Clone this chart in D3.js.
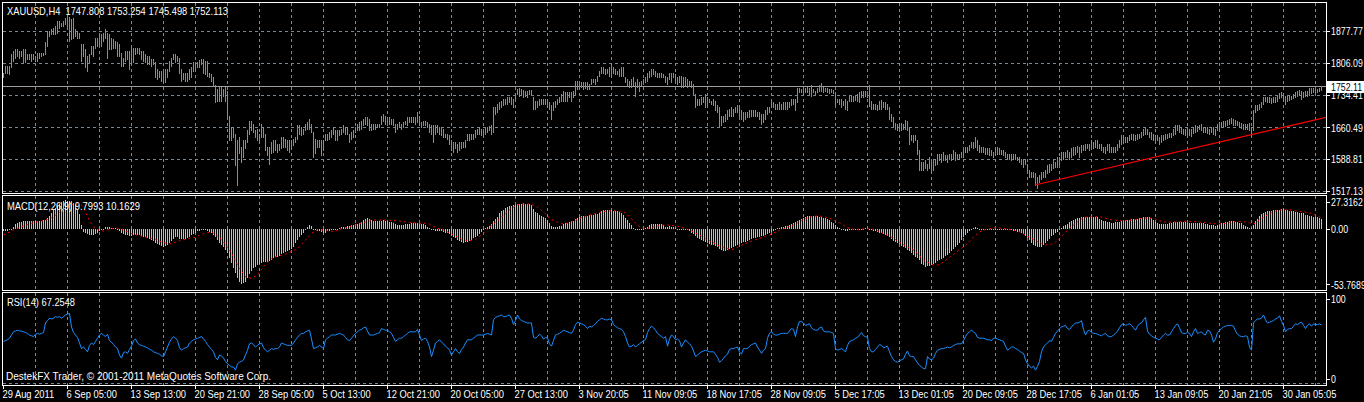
<!DOCTYPE html>
<html><head><meta charset="utf-8">
<script src="https://cdn.jsdelivr.net/npm/d3@7"></script>
<style>html,body{margin:0;padding:0;background:#000;overflow:hidden}svg{display:block}</style>
</head><body>
<svg id="chart" width="1364" height="402"></svg>
<script>
// ---------------- DATA ----------------
const symbolTitle = "XAUUSD,H4  1747.808 1753.254 1745.498 1752.113";
const macdTitle = "MACD(12,26,9) 9.7993 10.1629";
const rsiTitle = "RSI(14) 67.2548";
const footer = "DestekFX Trader, \u00A9 2001-2011 MetaQuotes Software Corp.";
const lastPrice = 1752.113;
const lastPriceLabel = "1752.11";
const priceTicks = [1877.77, 1806.09, 1734.41, 1660.49, 1588.81, 1517.13];
const priceTickLabels = ["1877.77", "1806.09", "1734.41", "1660.49", "1588.81", "1517.13"];
const macdTicks = [27.3162, 0, -53.7689];
const macdTickLabels = ["27.3162", "0.00", "-53.7689"];
const rsiTicks = [100, 0];
const rsiTickLabels = ["100", "0"];
const timeLabels = ["29 Aug 2011","6 Sep 05:00","13 Sep 13:00","20 Sep 21:00","28 Sep 05:00","5 Oct 13:00","12 Oct 21:00","20 Oct 05:00","27 Oct 13:00","3 Nov 20:05","11 Nov 09:05","18 Nov 17:05","28 Nov 09:05","5 Dec 17:05","13 Dec 01:05","20 Dec 09:05","28 Dec 17:05","6 Jan 01:05","13 Jan 09:05","20 Jan 21:05","30 Jan 05:05"];
const timeLabelBars = [0,32,64,96,128,160,192,224,256,288,320,352,384,416,448,480,512,544,576,608,640];
const trendBars = [516, 659];
const trendPrices = [1530.7, 1680.5];

const high = [
1784,1799,1799,1799,1825,1833,1837,1837,1833,1833,
1837,1837,1825,1825,1825,1825,1822,1829,1829,1829,
1829,1852,1878,1878,1882,1885,1889,1900,1900,1896,
1900,1908,1908,1909,1904,1908,1882,1878,1874,1848,
1848,1837,1822,1825,1844,1844,1863,1863,1870,1870,
1874,1882,1874,1870,1863,1859,1855,1852,1848,1829,
1818,1833,1833,1833,1840,1840,1840,1840,1840,1833,
1833,1825,1822,1822,1814,1814,1807,1792,1788,1788,
1788,1792,1792,1811,1818,1825,1825,1822,1818,1792,
1784,1784,1784,1792,1796,1807,1807,1807,1812,1814,
1814,1811,1811,1784,1781,1773,1755,1747,1751,1751,
1747,1751,1743,1687,1661,1661,1646,1631,1639,1616,
1631,1631,1654,1676,1676,1669,1654,1658,1646,1669,
1661,1646,1616,1616,1628,1631,1631,1624,1624,1639,
1639,1635,1631,1631,1631,1635,1639,1665,1665,1661,
1658,1669,1672,1680,1669,1650,1635,1631,1631,1631,
1631,1646,1646,1650,1654,1661,
1654,1654,1654,1658,1665,1661,1661,1646,1650,1654,
1661,1669,1672,1676,1680,1684,1684,1680,1669,1669,
1669,1669,1669,1687,1691,1687,1684,1684,1680,1680,
1669,1669,1672,1669,1672,1676,1684,1684,1684,1684,
1684,1695,1687,1672,1676,1676,1672,1669,1665,1665,
1665,1665,1661,1661,1658,1646,1646,1643,1631,1628,
1628,1624,1628,1628,1628,1631,1646,1646,1646,1646,
1654,1658,1661,1658,1658,1661,1661,1663,1665,1706,
1706,1713,1717,1721,1725,1725,1728,1728,1728,1725,
1736,1747,1749,1747,1745,1743,1743,1745,1745,1728,
1721,1721,1725,1725,1725,1725,1725,1717,1710,1717,
1721,1725,1728,1736,1743,1740,1740,1740,1740,1743,
1766,1766,1766,1762,1762,1762,1762,1758,1770,1770,
1770,1777,1788,1796,1796,1792,1792,1796,1803,1796,
1792,1788,1792,1796,1796,1773,1770,1766,1770,1773,
1762,1770,1762,1766,1770,1773,1784,1788,1792,1792,
1788,1784,1784,1784,1781,
1777,1773,1784,1784,1784,1781,1773,1777,1777,1773,
1773,1770,1766,1766,1758,1736,1725,1725,1728,1728,
1736,1728,1725,1721,1725,1721,1710,1706,1687,1687,
1691,1699,1702,1706,1702,1706,1710,1710,1699,1695,
1695,1695,1699,1700,1699,1699,1695,1695,1691,1691,
1699,1706,1706,1721,1717,1713,1713,1717,1713,1717,
1717,1717,1717,1725,1725,1725,1749,1749,1747,1749,
1749,1752,1749,1755,1747,1743,1749,1755,1760,1752,
1749,1749,1747,1747,1745,1740,1725,1725,1725,1721,
1725,1721,1732,1732,1732,1732,1736,1740,1742,1742,
1742,1742,1755,1721,1713,1713,1712,1721,1722,1717,
1717,1713,1706,1691,1684,1670,1669,1670,1670,1669,
1678,1676,1661,1643,1643,1643,1631,1609,1583,1583,
1587,1579,1594,1583,1587,1590,1601,1601,1601,1605,
1598,1598,1601,1601,1609,1605,1601,1601,1605,1609,
1616,1616,1620,1628,1628,1639,1631,1620,1616,1616,
1613,1613,1613,1609,1605,
1616,1616,1613,1609,1609,1605,1601,1601,1601,1601,
1600,1594,1594,1590,1590,1587,1579,1564,1560,1560,
1557,1549,1553,1560,1560,1564,1575,1579,1579,1587,
1583,1594,1594,1605,1605,1605,1609,1605,1613,1616,
1616,1618,1616,1620,1620,1624,1624,1624,1631,1628,
1631,1631,1624,1624,1616,1616,1624,1624,1616,1616,
1616,1624,1631,1643,1643,1639,1639,1643,1646,1646,
1643,1645,1646,1650,1658,1661,1658,1650,1650,1646,
1643,1643,1639,1643,1643,1646,1646,1648,1648,1658,
1665,1667,1665,1661,1658,1658,1661,1658,1658,1661,
1665,1663,1667,1669,1661,1661,1661,1658,1661,1661,
1658,1669,1672,1672,1676,1676,1678,1680,1682,1680,
1678,1676,1672,1670,1669,1669,1669,1670,1661,1699,
1712,1712,1713,1717,1728,1730,1728,1728,1727,1728,
1728,1732,1737,1740,1737,1732,1732,1732,1732,1736,
1740,1743,1745,1743,1740,1742,1742,1749,1749,1749,
1749,1747,1749,1753.254];

const low = [
1773,1784,1784,1781,1796,1811,1818,1822,1818,1822,
1807,1807,1814,1814,1811,1814,1811,1811,1818,1822,
1824,1825,1844,1867,1870,1870,1870,1874,1885,1889,
1889,1893,1889,1855,1859,1863,1867,1863,1863,1811,
1822,1796,1788,1807,1825,1822,1840,1844,1848,1844,
1855,1863,1818,1837,1837,1840,1840,1822,1822,1799,
1799,1811,1814,1792,1803,1807,1825,1829,1825,1814,
1811,1807,1803,1803,1799,1803,1773,1770,1773,1766,
1762,1762,1773,1788,1799,1814,1807,1811,1784,1766,
1770,1766,1766,1770,1773,1788,1792,1796,1796,1803,
1784,1781,1777,1773,1766,1755,1717,1721,1721,1721,
1732,1721,1684,1631,1631,1639,1575,1531,1602,1583,
1594,1613,1628,1646,1654,1650,1639,1631,1628,1639,
1639,1609,1598,1579,1602,1605,1609,1605,1609,1613,
1616,1616,1609,1605,1613,1620,1628,1635,1646,1643,
1646,1654,1658,1658,1650,1594,1602,1616,1616,1598,
1609,1631,1631,1635,1639,1646,
1631,1631,1643,1646,1650,1646,1646,1628,1635,1639,
1650,1654,1654,1658,1665,1669,1665,1654,1654,1658,
1658,1661,1661,1669,1676,1669,1672,1669,1669,1665,
1650,1658,1661,1658,1661,1669,1665,1672,1672,1672,
1669,1672,1665,1661,1665,1665,1661,1650,1646,1628,
1646,1650,1646,1643,1639,1639,1635,1624,1609,1605,
1613,1605,1609,1613,1616,1616,1631,1631,1635,1635,
1639,1646,1646,1643,1646,1646,1650,1654,1646,1650,
1691,1695,1702,1706,1710,1713,1713,1717,1713,1706,
1721,1736,1732,1736,1728,1732,1728,1736,1736,1702,
1702,1706,1710,1713,1713,1713,1706,1702,1680,1699,
1706,1713,1717,1721,1721,1721,1721,1728,1721,1728,
1736,1747,1747,1751,1747,1749,1747,1747,1758,1762,
1758,1766,1777,1784,1784,1781,1784,1777,1777,1784,
1781,1781,1777,1777,1777,1762,1755,1751,1751,1755,
1732,1751,1743,1755,1758,1762,1766,1773,1777,1781,
1777,1773,1773,1773,1773,
1762,1758,1770,1762,1773,1766,1758,1762,1751,1751,
1755,1751,1755,1751,1736,1706,1710,1710,1713,1717,
1706,1713,1717,1713,1710,1699,1695,1663,1665,1672,
1676,1680,1687,1687,1687,1695,1695,1687,1680,1676,
1680,1684,1684,1687,1687,1687,1687,1680,1669,1672,
1680,1691,1695,1706,1706,1702,1702,1702,1702,1702,
1702,1702,1706,1710,1713,1699,1717,1740,1740,1740,
1740,1740,1736,1732,1740,1736,1740,1743,1743,1740,
1742,1740,1737,1740,1737,1713,1717,1713,1706,1710,
1702,1699,1721,1721,1721,1722,1721,1717,1728,1728,
1732,1728,1708,1702,1702,1702,1700,1702,1702,1706,
1702,1702,1680,1676,1661,1658,1654,1652,1655,1658,
1658,1654,1622,1631,1628,1631,1601,1564,1564,1564,
1568,1564,1568,1560,1564,1575,1579,1587,1583,1587,
1587,1583,1590,1587,1590,1588,1590,1590,1594,1594,
1605,1605,1609,1616,1613,1616,1609,1605,1605,1605,
1601,1601,1598,1598,1594,
1598,1601,1601,1601,1598,1594,1590,1590,1587,1590,
1590,1587,1583,1579,1572,1579,1557,1549,1549,1549,
1531,1523,1538,1545,1549,1549,1557,1560,1564,1568,
1572,1572,1579,1587,1590,1594,1594,1590,1594,1598,
1601,1605,1594,1605,1609,1609,1613,1609,1616,1613,
1616,1613,1613,1609,1605,1603,1609,1605,1605,1605,
1605,1609,1616,1624,1628,1628,1628,1631,1635,1631,
1631,1635,1637,1639,1643,1646,1646,1639,1635,1633,
1631,1631,1622,1628,1631,1635,1637,1639,1639,1643,
1646,1655,1650,1648,1646,1643,1646,1643,1640,1648,
1650,1652,1658,1654,1650,1650,1648,1646,1650,1646,
1643,1654,1658,1661,1663,1663,1667,1669,1670,1667,
1667,1665,1661,1660,1658,1658,1658,1655,1646,1654,
1695,1700,1702,1706,1713,1721,1717,1717,1715,1717,
1717,1721,1727,1728,1725,1713,1721,1723,1725,1727,
1728,1732,1734,1725,1730,1732,1732,1734,1739,1740,
1740,1740,1742,1745.498];

const macdMain = [
-2,-2,-2,-1,0,2,4.5,5.5,6,6.5,
7,7,7,7,7,7,7,7.5,7.5,7.5,
8,8.4,10,12,15.5,18,19.6,22,23.8,25.4,
26.7,27.3162,27.1,27,26.4,25,22.9,18,14,4,
-2.9,-4.5,-5.5,-6.1,-6.1,-6.4,-5.5,-3.9,-2.6,-1.3,
-0.3,1.3,1.3,1.3,0.6,0.6,0.3,-0.6,-1.9,-3.9,
-5.2,-5.8,-6.4,-7.1,-7.1,-6.4,-6.1,-6.1,-6.4,-7.1,
-7.7,-8.4,-9,-9.7,-10.9,-12.2,-13.5,-14.8,-16.1,-17.1,
-17.4,-16.7,-15.5,-13.5,-11.6,-9.7,-8.4,-8.4,-9.7,-10.3,
-10.3,-9.7,-9,-7.7,-6.4,-5.2,-3.9,-2.6,-1.9,-1.3,
-1.3,-1.6,-2.3,-3.2,-4.5,-6.1,-8.4,-10.9,-13.5,-15.8,
-18,-20.6,-23.8,-28.7,-33.5,-38.3,-43.1,-48,-51.2,-53.7689,
-52.8,-51.2,-48,-43.8,-40.6,-38.3,-36.7,-35.4,-34.5,-32.8,
-31.9,-32.2,-32.2,-31.6,-30.3,-28.7,-27.7,-27,-26.1,-24.5,
-23.2,-22.2,-21.3,-20.6,-19.3,-17.4,-14.2,-10.9,-8.4,-6.1,
-3.9,-1.3,1.3,3.5,2.6,0,-1.3,-1.9,-2.6,-3.5,
-4.5,-3.9,-2.6,-1.9,-1.3,-0.6,
0,-0.5,0.5,1.5,2,2,2.5,3,3.5,4,
4.2,4.5,5.5,6.5,8,9.5,10,9,8.4,7.7,
7.4,7,7,7.5,8,7.7,7,6.5,6,5.2,
4.5,4,3.9,3.9,3.9,4.2,4.5,4.8,5,5.2,
5.2,5.5,5.2,4.5,4.2,3.5,2,0.5,-1.3,-1.6,
-1.9,-2,-2.2,-2.6,-3.2,-3.9,-4.5,-5.5,-6.8,-8,
-9.3,-10.6,-12,-13.2,-13.5,-13,-12.5,-11.6,-10.6,-9.3,
-8,-6.8,-5.2,-3.5,-1.3,0.6,1.3,2.6,4.5,7,
9.5,11.6,15,16.8,18.4,19.6,20.6,21.5,22,22.6,
23.2,23.8,24,24.3,24.5,24.3,24.1,23.5,22.9,18.7,
16.5,15,13.2,12,11.3,10.3,8.4,5,2.6,2,
1.9,1.9,2.2,3,4.2,5,5.8,6.5,7,7.6,
9,10.3,11.3,11.9,12.2,12.2,12.2,12.8,13.2,13.2,
13.7,14.2,15.5,16.8,17.8,18,18,18,18,17.4,
17.4,17.2,16,15,13.5,10.5,8,5.5,3.5,1,
0,0,-0.5,-0.6,0,1,2,3.5,4.5,4.5,
4.5,4.5,4.5,4.2,3.9,
2,2,2.2,2,1.5,0.5,0,-0.3,-0.5,-0.6,
-1,-1.3,-1.9,-4,-5.5,-7.4,-9.3,-10.3,-11.3,-12.2,
-13.3,-14.2,-15,-15.6,-16.1,-16.7,-18,-19.8,-21,-21.3,
-21.3,-20.6,-19.8,-18.4,-17.7,-17,-15.5,-14.5,-13.8,-13.2,
-12.6,-11.8,-11,-9.8,-9.3,-8.7,-8,-7.7,-7.4,-6.8,
-6.1,-5.2,-4.5,-3,-1.9,-0.3,0.5,0.8,1.6,2,
2.6,3,3.5,4.2,5.2,6.8,7.7,8.4,9.4,10.3,
11.3,11.9,12.2,12.2,12.2,12.2,11.9,11.6,11.3,10.6,
10,9,8,6.5,5,3.2,1.5,0.3,-0.6,-1.3,
-1.9,-1.9,-1.6,-1.3,-1.3,-1.3,-0.8,-0.6,-0.3,0,
0.6,0.3,-0.3,-1.3,-2,-2.6,-3.3,-3.9,-4.5,-5,
-6.1,-7,-8.4,-10,-11.5,-12.6,-13.5,-15,-16.3,-18,
-19,-20.3,-21.5,-23.2,-25,-27,-28.7,-30.5,-34,-35.5,
-36.7,-36.5,-36.1,-35.5,-34.2,-32.8,-31.5,-30,-29,-28,
-26.5,-25,-23.5,-21.8,-20,-18,-15.5,-13.5,-11,-8.5,
-6.1,-4,-2.6,-1,0.6,1.3,0.6,0,0,0,
0,-0.3,-0.3,0,0,
0,0,-0.3,-0.3,-0.6,-0.6,-1,-1.3,-1.6,-1.9,
-2.3,-2.9,-3.2,-4,-5.5,-7.2,-9.5,-11,-13.5,-15.5,
-16.7,-17.7,-18,-17.4,-16.1,-14,-12.3,-10.3,-7,-6.4,
-4.5,-3.5,-1.3,0.5,2.6,3.9,4.5,6,7,8.2,
9.4,10,10.6,11,11.6,11.6,11.6,11.6,11.6,11.6,
11.3,11,9.7,8.7,7.7,7,6.4,6,5.8,5.8,
6,6.4,6.8,7.1,7.5,8,8.4,8.8,9.2,9.7,
9.7,9.8,10,10.5,11,11.4,11.6,11,10,8.4,
6.8,5.8,4.8,4.5,4.2,4.2,4.5,5,5.5,6.2,
6.8,6.8,6.8,6.5,6.4,6,5.8,5.8,5.8,5.8,
5.8,5.8,5.5,5.2,5.2,4.8,4.5,4,3.7,3.2,
2.6,3.2,4.5,5.2,5.8,6.4,6.8,7.1,7.1,7.1,
6.8,6.4,5.8,5,3.9,3,1.9,1,0.6,3.2,
7,9.5,12,14,15.5,16.5,16.8,17.2,17.4,18,
18,18,18.4,18.7,18.7,18.2,17.7,17.4,17,16.8,
16.4,16.1,15.5,15,14.8,13.5,13,12.2,11.8,11.6,
11.3,11,10.5,9.7993];

const macdSignal = [
-6.1,-5.2,-4.2,-3.2,-2.2,-1.3,-0.5,0.3,1.1,1.9,
2.6,3.3,4,4.6,5.2,5.8,6.2,6.6,7,7.4,
7.7,8.3,9,9.9,10.7,11.6,13,14.4,15.8,17.3,
18.7,19.8,20.8,21.8,22.8,23.8,24,24,23.8,22.5,
20.6,16,11.6,8,4.5,2.2,0.3,-0.8,-1.9,-2.2,
-2.3,-1.8,-1.2,-0.6,-0.2,0.2,0.6,0.3,-0.2,-0.7,
-1.3,-2.1,-2.9,-3.7,-4.5,-5.2,-5.7,-6.2,-6.7,-7.2,
-7.7,-8.1,-8.5,-8.9,-9.3,-9.7,-10.5,-11.3,-12.1,-12.8,
-13.5,-13.9,-14.3,-14.6,-14.8,-14,-13.2,-12.4,-11.6,-11.1,
-10.6,-10.2,-9.7,-9.4,-9.1,-8.7,-8.4,-7.4,-6.5,-5.5,
-4.5,-4.2,-3.9,-3.7,-3.5,-4.3,-5.2,-7,-8.9,-10.7,
-12.6,-15.4,-18.2,-21,-23.8,-27.5,-31.1,-34.7,-38.3,-41,
-43.7,-46.4,-47,-47.5,-48,-47,-45.9,-44.8,-42.1,-39.4,
-36.7,-34.6,-32.4,-30.3,-29.2,-28.1,-27,-26.6,-26.2,-25.8,
-25.4,-24.6,-23.8,-22.9,-22.1,-21.3,-20,-18.7,-17.4,-15.2,
-13.1,-10.9,-8.8,-6.6,-4.5,-3.4,-2.4,-1.3,-1.3,-1.3,
-1.3,-1.3,-1.6,-2,-2.3,-3,
-2.5,-1.5,-0.6,0,0.5,1,1.5,1.9,2.5,3,
3.6,4.2,4.7,5.3,5.8,6.3,6.8,7.4,7.9,8.4,
8.4,8.4,8.4,8.4,8.4,8.3,8.2,8.1,8,7.9,
7.8,7.7,7.4,7.1,6.8,6.5,6.2,5.9,5.7,5.6,
5.5,5.4,5.2,5.2,5.2,5.2,5,4.5,3.5,2.4,
1.3,0.4,-0.2,-0.8,-1.3,-2.2,-3.2,-4.2,-5.1,-6.1,
-7.1,-8,-9,-10,-10.9,-11.2,-11.4,-11.6,-11.2,-10.8,
-10.4,-9,-7.5,-6,-4.5,-2.5,-0.5,1.5,3,4.5,
6,7.5,9.3,11.2,13.2,14.8,16.5,18.2,19.6,20.8,
22.2,23,23.3,23.6,23.8,23.8,23.8,23.8,23.3,22.8,
22.2,20.8,19.2,17.8,16.4,14.3,12.2,10.2,9,8,
7,6.2,5.5,4.8,4.5,4.9,5.3,5.8,6.6,7.4,
8.2,9,9.8,10.6,11.2,11.9,12.5,13.1,13.6,14.1,
14.6,15.1,15.6,16,16.4,16.7,17,17.3,17.4,17.4,
17.4,17.2,16.9,16.6,16.4,15,13.3,11.6,9.6,7.5,
5.3,3.5,2,1,0.3,0.3,0.4,0.5,1,1.6,
2.2,2.6,3,3.3,3.5,
3.5,3.5,3.5,3.2,2.9,2.6,2.3,1.9,1.3,0.6,
0,-0.6,-1.3,-2.3,-3.2,-4.2,-5.1,-6.1,-7.2,-8.3,
-9.4,-10.5,-11.6,-12.6,-13.6,-14.7,-15.7,-16.7,-17.4,-18.1,
-18.8,-19.3,-19.6,-19.9,-20,-19,-18,-16.9,-16.1,-15.2,
-14.4,-13.6,-12.8,-12.1,-11.4,-10.7,-10,-9.4,-8.7,-8.1,
-7.4,-6.8,-6.2,-5.2,-4.3,-3.3,-2.4,-1.6,-0.8,-0.2,
0.4,1.3,2.2,2.8,3.4,4.4,5.5,6.7,7.8,8.8,
9.8,10.5,11.1,11.7,12.1,12.2,12.2,12.2,11.9,11.6,
11.3,10.6,9.9,9.2,8.4,7.6,6.8,5.9,4.6,3.3,
2.2,1.2,0.4,-0.3,-0.6,-0.6,-0.6,-0.6,-0.4,-0.2,
0,-0.1,-0.3,-0.5,-0.7,-1.3,-2,-2.9,-3.8,-4.8,
-5.8,-6.4,-7.3,-8.3,-9.3,-10.5,-11.8,-13.2,-14.3,-15.4,
-16.6,-17.6,-18.6,-19.5,-20.6,-22.4,-24.2,-26.3,-28,-29.6,
-31.3,-32.3,-33.3,-34.3,-35.1,-35.1,-35.1,-35.1,-33.7,-32.2,
-30.7,-29.1,-27.6,-26.1,-25,-23.4,-21.7,-20.2,-18.9,-17.6,
-16.3,-14.4,-12.2,-10.1,-8.2,-6.6,-4.9,-3.2,-2.2,-1.5,
-0.9,-0.5,-0.1,0.3,0.6,
0.9,0.8,0.6,0.4,0.2,0,-0.3,-0.6,-1,-1.5,
-1.9,-2.4,-2.9,-4,-5.1,-6.2,-7.3,-8.4,-9.4,-10.4,
-11.4,-12.5,-13.5,-14.3,-15,-15.8,-15.5,-15.2,-14.9,-14.8,
-13,-11.1,-9.3,-7.4,-5.4,-3.5,-1.8,0,1.9,3.5,
5.1,6.7,8.4,9.3,10.1,11,11.2,11.4,11.6,11.6,
11.6,11.6,11.6,11,10.5,10,9.5,9,8.6,8.4,
8.2,7.9,7.7,7.7,7.7,7.7,7.9,8.1,8.3,8.4,
8.8,9.2,9.7,9.9,10.1,10.3,10.2,10.1,10,10,
9.2,8.5,7.7,7.3,6.8,6.4,6.4,6.4,6.4,6.4,
6.5,6.7,6.8,6.9,7,7.1,7.1,7,6.9,6.8,
6.7,6.5,6.4,6.2,6,5.8,5.6,5.4,5.2,5,
4.8,4.6,4.5,4.7,4.9,5.2,5.6,6,6.4,6.6,
6.8,6.8,6.8,6.6,6.5,6.4,5.9,5.5,5,4.5,
5.5,6.8,8.4,9.7,10.9,12.2,13.3,14.4,15.5,16.2,
16.8,17.4,18,18.2,18.4,18.7,18.4,18.2,18,17.6,
17.2,16.9,16.7,16.5,16.3,16.1,15.6,15.2,14.8,14,
13.2,12.4,11.5,10.1629];

const rsi = [
47,48,49,51,55,59,60,61,60,60,
59,58,57,55,54,53,56,57,56,57,
58,70,73,76,75,76,78,77,78,76,
78,80,81,82,65,58,55,52,45,38,
40,37,34,42,45,43,47,51,55,57,
55,53,56,48,46,43,40,38,30,26,
33,34,32,37,41,48,50,45,43,42,
41,40,39,37,36,34,33,32,31,29,
28,34,40,46,50,53,51,48,39,36,
38,39,40,45,47,49,50,51,52,53,
50,47,43,40,37,34,27,24,30,29,
26,22,19,17,15,15,11,19,21,22,
24,30,36,44,45,43,40,42,44,45,
39,36,34,36,38,37,38,38,40,45,
44,43,42,42,42,45,49,52,55,57,
57,59,60,61,50,38,39,40,42,40,
38,49,51,53,55,55,
55,56,57,56,55,52,49,48,51,54,
57,59,61,62,64,65,60,55,55,55,
56,57,58,63,62,61,61,59,57,52,
47,49,51,51,53,55,57,59,59,59,
59,62,55,48,50,51,47,40,28,36,
45,47,49,46,44,41,39,36,30,34,
38,34,32,37,40,45,49,49,49,51,
53,55,55,55,55,56,57,56,55,74,
77,78,79,80,78,78,79,80,76,68,
73,80,75,73,72,71,70,70,70,52,
51,53,56,54,50,52,51,44,41,48,
55,56,57,59,61,60,59,58,57,61,
68,71,70,69,68,66,63,66,65,67,
69,72,74,76,75,74,74,75,74,68,
66,64,63,62,59,53,45,40,41,43,
40,42,44,46,48,49,58,63,66,64,
61,57,55,53,51,
53,41,50,55,53,49,50,48,40,45,
49,46,44,41,35,28,30,32,34,35,
36,35,34,34,34,31,27,21,23,26,
29,31,37,38,38,39,40,34,31,38,
38,38,41,43,44,45,40,36,32,36,
38,51,57,59,56,55,55,56,57,57,
57,57,60,63,62,53,65,72,72,70,
67,68,69,64,62,61,61,64,65,60,
59,59,59,58,57,38,36,37,38,36,
34,42,47,48,49,51,52,55,58,54,
53,52,38,34,34,37,40,43,42,39,
40,41,34,28,24,22,21,23,24,25,
31,35,29,28,28,24,20,17,15,13,
13,28,25,24,26,32,36,37,38,38,
39,40,39,40,42,43,44,44,44,48,
53,57,59,61,59,57,52,51,51,51,
50,49,49,48,51,
51,50,49,48,47,41,36,38,40,40,
38,37,35,33,32,24,19,16,14,16,
11,16,22,34,40,43,45,48,47,52,
57,60,63,65,66,67,63,62,65,68,
70,70,71,73,62,55,60,61,58,57,
57,56,55,54,56,57,54,53,53,55,
57,60,64,68,69,67,68,69,67,64,
61,66,69,70,74,77,60,56,54,52,
51,50,49,52,55,57,55,55,59,63,
67,69,64,58,57,57,58,57,53,59,
63,57,58,59,56,55,61,60,55,46,
50,58,61,63,65,66,67,67,67,66,
60,56,54,53,53,54,53,40,36,70,
73,75,75,76,80,74,70,71,72,73,
75,76,79,72,67,59,62,63,63,66,
69,68,70,71,67,63,67,69,66,69,
68,68,69,67.2548];

// ---------------- LAYOUT ----------------
const W = 1364, H = 402;
const FONT = "'Liberation Sans',Arial,sans-serif";
const FS = 10.5;
const FX = 0.89;   // horizontal squeeze to match the narrow terminal font
const FXR = 0.84;  // right-axis labels, so they fit the 38px strip
const L = 2, R = 1326;
const panels = {
  main: {top: 2, bottom: 193},
  macd: {top: 195, bottom: 290},
  rsi: {top: 292, bottom: 385}
};
const GRID = "#778899";
const BAR = "#32cd32";

const svg = d3.select("#chart");
svg.append("rect").attr("width", W).attr("height", H).attr("fill", "#000");

const n = high.length;
const x = d3.scaleLinear().domain([0, 659]).range([3, 1321]);
const yP = d3.scaleLinear().domain([1517.13, 1877.77]).range([191, 31]);
const yM = d3.scaleLinear().domain([-53.7689, 27.3162]).range([284.3, 200.4]);
const yR = d3.scaleLinear().domain([0, 100]).range([379, 299]);

const crisp = v => Math.round(v) + 0.5;

const defs = svg.append("defs");
Object.entries(panels).forEach(([k, p]) => {
  defs.append("clipPath").attr("id", "clip-" + k)
    .append("rect").attr("x", L + 1).attr("y", p.top + 1)
    .attr("width", R - L - 1).attr("height", p.bottom - p.top - 1);
});

// vertical grid (every 16 bars)
const gridBars = d3.range(16, 660, 16);
Object.entries(panels).forEach(([k, p]) => {
  svg.append("g").selectAll("line").data(gridBars).join("line")
    .attr("x1", d => crisp(x(d))).attr("x2", d => crisp(x(d)))
    .attr("y1", p.top + 1).attr("y2", p.bottom)
    .attr("stroke", GRID).attr("stroke-width", 1).attr("stroke-dasharray", "3,3");
});
// horizontal grid in price panel
svg.append("g").selectAll("line").data(priceTicks).join("line")
  .attr("x1", L + 1).attr("x2", R)
  .attr("y1", d => crisp(yP(d))).attr("y2", d => crisp(yP(d)))
  .attr("stroke", GRID).attr("stroke-dasharray", "3,3");
// bottom dashed line in RSI panel
svg.append("line").attr("x1", L + 1).attr("x2", R).attr("y1", 383.5).attr("y2", 383.5)
  .attr("stroke", GRID).attr("stroke-dasharray", "3,3");

// current price line
svg.append("line").attr("x1", L + 1).attr("x2", R)
  .attr("y1", crisp(yP(lastPrice) - 0.5)).attr("y2", crisp(yP(lastPrice) - 0.5))
  .attr("stroke", "#a0a0a0").attr("stroke-width", 1);

// price bars
svg.append("g").attr("clip-path", "url(#clip-main)").attr("shape-rendering", "crispEdges")
  .selectAll("rect").data(d3.range(n)).join("rect")
  .attr("x", i => Math.round(x(i))).attr("width", 1)
  .attr("y", i => Math.round(yP(high[i])))
  .attr("height", i => Math.max(1, Math.round(yP(low[i])) - Math.round(yP(high[i])) + 1))
  .attr("fill", BAR);

// trend line (ray)
const tSlope = (trendPrices[1] - trendPrices[0]) / (trendBars[1] - trendBars[0]);
const tEndBar = x.invert(R);
svg.append("line").attr("clip-path", "url(#clip-main)")
  .attr("x1", x(trendBars[0])).attr("y1", yP(trendPrices[0]))
  .attr("x2", R).attr("y2", yP(trendPrices[0] + tSlope * (tEndBar - trendBars[0])))
  .attr("stroke", "#ff0000").attr("stroke-width", 1.1);

// MACD histogram
const z = Math.round(yM(0));
svg.append("g").attr("clip-path", "url(#clip-macd)").attr("shape-rendering", "crispEdges")
  .selectAll("rect").data(d3.range(n)).join("rect")
  .attr("x", i => Math.round(x(i))).attr("width", 1)
  .attr("y", i => Math.min(z, Math.round(yM(macdMain[i]))))
  .attr("height", i => Math.max(1, Math.abs(Math.round(yM(macdMain[i])) - z)))
  .attr("fill", "#c0c0c0");
// MACD signal (dotted red)
svg.append("path").attr("clip-path", "url(#clip-macd)")
  .datum(d3.range(n))
  .attr("d", d3.line().x(i => x(i) + 0.5).y(i => yM(macdSignal[i])))
  .attr("fill", "none").attr("stroke", "#ff0000").attr("stroke-width", 1)
  .attr("stroke-dasharray", "2,3");

// RSI line
svg.append("path").attr("clip-path", "url(#clip-rsi)")
  .datum(d3.range(n))
  .attr("d", d3.line().x(i => x(i) + 0.5).y(i => yR(rsi[i])))
  .attr("fill", "none").attr("stroke", "#1e90ff").attr("stroke-width", 1);

// panel borders
Object.values(panels).forEach(p => {
  svg.append("rect").attr("x", L + 0.5).attr("y", p.top + 0.5)
    .attr("width", R - L).attr("height", p.bottom - p.top)
    .attr("fill", "none").attr("stroke", "#fff").attr("stroke-width", 1);
});

// text helpers (narrow terminal-like font)
const txt = (s, tx, ty, fill, fx) => svg.append("text")
  .attr("transform", `translate(${tx},${ty}) scale(${fx || FX},1)`)
  .attr("fill", fill || "#fff")
  .attr("font-family", FONT).attr("font-size", FS)
  .attr("dominant-baseline", "central")
  .style("white-space", "pre").text(s);
// texts whose full width was measured in the reference
const txtW = (s, tx, ty, w) => svg.append("text")
  .attr("x", tx).attr("y", ty).attr("fill", "#fff")
  .attr("font-family", FONT).attr("font-size", FS)
  .attr("dominant-baseline", "central")
  .attr("textLength", w).attr("lengthAdjust", "spacingAndGlyphs")
  .style("white-space", "pre").text(s);
txtW(symbolTitle, 7, 11, 221);
txtW(macdTitle, 7, 205.5, 133);
txtW(rsiTitle, 7, 302, 68);
txtW(footer, 6, 376, 265);

// right axes
const rightAxis = (ticks, labels, scale, clampTop, clampBottom) => {
  ticks.forEach((t, k) => {
    let ty = scale(t);
    ty = Math.max(clampTop, Math.min(clampBottom, ty));
    svg.append("line").attr("x1", R).attr("x2", R + 4)
      .attr("y1", crisp(ty)).attr("y2", crisp(ty)).attr("stroke", "#fff");
    txt(labels[k], 1331, ty + 0.5, "#fff", FXR);
  });
};
rightAxis(priceTicks, priceTickLabels, yP, 6, 192);
rightAxis(macdTicks, macdTickLabels, yM, 202, 285);
rightAxis(rsiTicks, rsiTickLabels, yR, 299, 379);

// current price label box
const lpY = yP(lastPrice);
svg.append("rect").attr("x", 1327).attr("y", Math.round(lpY) - 6).attr("width", 40).attr("height", 12).attr("fill", "#fff");
txt(lastPriceLabel, 1331, lpY + 0.5, "#000", FXR);

// time axis
svg.append("line").attr("x1", L).attr("x2", R + 1).attr("y1", 385.5).attr("y2", 385.5).attr("stroke", "#fff");
timeLabelBars.forEach((b, k) => {
  const tx = Math.round(x(b));
  svg.append("line").attr("x1", tx + 0.5).attr("x2", tx + 0.5).attr("y1", 385).attr("y2", 389).attr("stroke", "#fff");
  txt(timeLabels[k], tx - 0.5, 394.5);
});
</script>
</body></html>
